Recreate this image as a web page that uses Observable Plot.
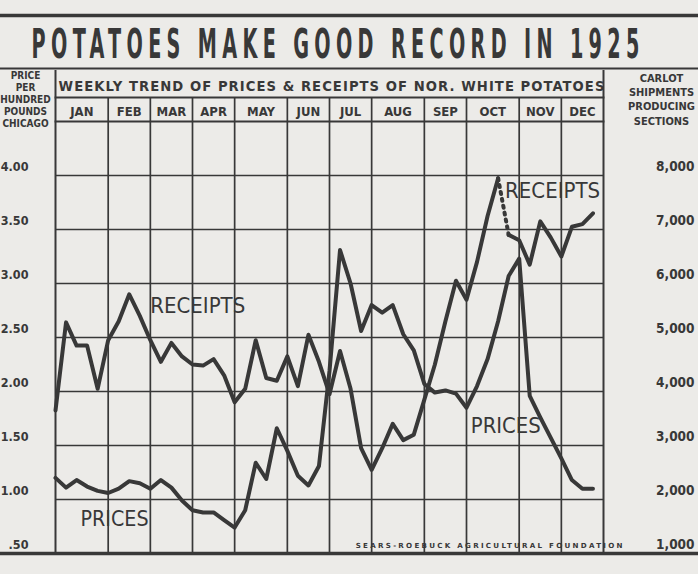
<!DOCTYPE html>
<html>
<head>
<meta charset="utf-8">
<script src="https://cdn.jsdelivr.net/npm/d3@7"></script>
<script src="https://cdn.jsdelivr.net/npm/@observablehq/plot@0.6"></script>
<style>
  html, body { margin: 0; padding: 0; background: #ecebe8; }
  #chart { width: 698px; height: 574px; overflow: hidden; }
</style>
</head>
<body>
<div id="chart"></div>
<script>
// ---------- data ----------
const title = "POTATOES MAKE GOOD RECORD IN 1925";
const header = "WEEKLY TREND OF PRICES & RECEIPTS OF NOR. WHITE POTATOES";
const months = ["JAN","FEB","MAR","APR","MAY","JUN","JUL","AUG","SEP","OCT","NOV","DEC"];
const weeksPerMonth = [5,4,4,4,5,4,4,5,4,5,4,4];

// weekly carlot receipts (right scale)
const receipts = [3650, 5280, 4850, 4850, 4050, 4950, 5300, 5800, 5400, 4950,
                  4550, 4900, 4650, 4500, 4480, 4600, 4300, 3800, 4050, 4950,
                  4250, 4200, 4650, 4100, 5050, 4550, 3950, 4750, 4050, 2950,
                  2550, 2950, 3400, 3100, 3200, 3850, 4500, 5300, 6050, 5700,
                  6400, 7250, 7950, 6900, 6800, 6350, 7150, 6850, 6500, 7050,
                  7100, 7300];
// weekly prices, dollars per 100 lbs (left scale)
const prices = [1.20, 1.11, 1.18, 1.12, 1.08, 1.06, 1.10, 1.17, 1.15, 1.10,
                1.18, 1.11, 0.99, 0.90, 0.88, 0.88, 0.81, 0.74, 0.90, 1.34,
                1.19, 1.66, 1.45, 1.22, 1.13, 1.31, 2.19, 3.31, 3.00, 2.56,
                2.80, 2.73, 2.80, 2.53, 2.38, 2.07, 1.99, 2.01, 1.98, 1.85,
                2.05, 2.30, 2.65, 3.07, 3.23, 1.96, 1.76, 1.57, 1.38, 1.18,
                1.10, 1.10];

const receiptTicks = [1000, 2000, 3000, 4000, 5000, 6000, 7000, 8000];
const receiptTickLabels = ["1,000","2,000","3,000","4,000","5,000","6,000","7,000","8,000"];
const priceTickLabels = [".50","1.00","1.50","2.00","2.50","3.00","3.50","4.00"];
const leftTitle = "PRICE\nPER\nHUNDRED\nPOUNDS\nCHICAGO";
const rightTitle = "CARLOT\nSHIPMENTS\nPRODUCING\nSECTIONS";
const source = "SEARS-ROEBUCK AGRICULTURAL FOUNDATION";

// ---------- derived ----------
const ink = "#383838";
const font = "'DejaVu Sans Condensed', 'Liberation Sans Narrow', 'DejaVu Sans', sans-serif";
const weeks = receipts.map((_, i) => i + 1);
const bounds = [1];
weeksPerMonth.forEach(n => bounds.push(bounds[bounds.length - 1] + n));
const monthCenters = months.map((m, i) => (bounds[i] + bounds[i + 1]) / 2);
const monthByCenter = new Map(monthCenters.map((c, i) => [c, months[i]]));
// prices share the vertical scale: $0.50 <-> 1,000 ; $4.00 <-> 8,000
const priceToScale = p => 1000 + (p - 0.5) * 2000;

const receiptsData = weeks.map((w, i) => ({week: w, value: receipts[i]}));
const pricesData = weeks.map((w, i) => ({week: w, value: priceToScale(prices[i])}));
const dotFrom = 43, dotTo = 44; // dotted stretch of receipts line

const svg = Plot.plot({
  width: 698,
  height: 574,
  marginTop: 121,
  marginBottom: 21,
  marginLeft: 55,
  marginRight: 95,
  x: {domain: [1, 53], axis: null},
  y: {domain: [1000, 9000], axis: null},
  style: {background: "transparent", color: ink, fontFamily: font},
  marks: [
    // rules of the header
    Plot.frame({anchor: "top", insetTop: -106, insetLeft: -60, insetRight: -100, stroke: ink, strokeWidth: 3.5}),
    Plot.frame({anchor: "top", insetTop: -53, insetLeft: -60, insetRight: -100, stroke: ink, strokeWidth: 2.2}),
    Plot.frame({anchor: "top", insetTop: -24, stroke: ink, strokeWidth: 1.8}),
    Plot.frame({anchor: "top", stroke: ink, strokeWidth: 1.8}),
    // grid
    Plot.ruleY(receiptTicks, {stroke: ink, strokeWidth: 1.6}),
    Plot.ruleX(bounds.slice(1, -1), {insetTop: -24, stroke: ink, strokeWidth: 1.7}),
    Plot.ruleX([bounds[0], bounds[bounds.length - 1]], {insetTop: -51, stroke: ink, strokeWidth: 2}),
    Plot.ruleY([1000], {insetLeft: -60, insetRight: -100, stroke: ink, strokeWidth: 3.5}),
    // axes
    Plot.axisY(receiptTicks, {anchor: "left", tickSize: 0, tickPadding: 27, dy: -9,
      tickFormat: d => priceTickLabels[receiptTicks.indexOf(d)],
      fontSize: 12.5, fontWeight: "bold", fill: ink, label: null}),
    Plot.axisY(receiptTicks, {anchor: "right", tickSize: 0, tickPadding: 91, dy: -9, textAnchor: "end",
      tickFormat: d => receiptTickLabels[receiptTicks.indexOf(d)],
      fontSize: 13.5, fontWeight: "bold", fill: ink, label: null}),
    Plot.axisX(monthCenters, {anchor: "top", tickSize: 0, tickPadding: 6,
      tickFormat: d => monthByCenter.get(d),
      fontSize: 13, fontWeight: "bold", fill: ink, label: null}),
    // data lines
    Plot.line(pricesData, {x: "week", y: "value", stroke: ink, strokeWidth: 4}),
    Plot.line(receiptsData.filter(d => d.week <= dotFrom), {x: "week", y: "value", stroke: ink, strokeWidth: 4}),
    Plot.line(receiptsData.filter(d => d.week >= dotFrom && d.week <= dotTo), {x: "week", y: "value", stroke: ink, strokeWidth: 4, strokeDasharray: "2,5"}),
    Plot.line(receiptsData.filter(d => d.week >= dotTo), {x: "week", y: "value", stroke: ink, strokeWidth: 4}),
    // series labels
    Plot.text([receiptsData[7]], {x: "week", y: "value", text: () => "RECEIPTS", dx: 21, dy: 12, textAnchor: "start",
      fontSize: 22, fill: ink}),
    Plot.text([pricesData[2]], {x: "week", y: "value", text: () => "PRICES", dx: 4, dy: 39, textAnchor: "start",
      fontSize: 22, fill: ink}),
    Plot.text([receiptsData[42]], {x: "week", y: "value", text: () => "RECEIPTS ", dx: 7, dy: 13, textAnchor: "start",
      fontSize: 22, fill: ink}),
    Plot.text([pricesData[45]], {x: "week", y: "value", text: () => "PRICES ", dx: 11, dy: 30, textAnchor: "end",
      fontSize: 22, fill: ink}),
    // titles
    Plot.text([title], {frameAnchor: "top", lineAnchor: "middle", dx: 6, dy: -76, fontSize: 40, fontWeight: "bold", fill: ink}),
    Plot.text([header], {frameAnchor: "top", lineAnchor: "middle", dx: 2, dy: -35, fontSize: 14, fontWeight: "bold", fill: ink}),
    Plot.text([leftTitle], {frameAnchor: "top-left", dx: -30, dy: -51, lineAnchor: "top", textAnchor: "middle",
      fontSize: 10, fontWeight: "bold", lineHeight: 1.2, fill: ink}),
    Plot.text([rightTitle], {frameAnchor: "top-right", dx: 58, dy: -50, lineAnchor: "top", textAnchor: "middle",
      fontSize: 11, fontWeight: "bold", lineHeight: 1.3, fill: ink}),
    Plot.text([source], {frameAnchor: "bottom-right", lineAnchor: "middle", dx: 19, dy: -8, textAnchor: "end",
      fontSize: 7, fontWeight: "bold", fill: ink})
  ]
});

document.getElementById("chart").appendChild(svg);

// fit a few texts horizontally to their widths in the reference (letter-spacing, then horizontal scale)
const fits = new Map([
  [title, [608, 10]], [header, [546, 1]], [source, [267, 2]],
  ["RECEIPTS", [95, 0]], ["PRICES", [68, 0]], ["RECEIPTS ", [95, 0]], ["PRICES ", [70, 0]]
]);
svg.querySelectorAll("text").forEach(t => {
  if (t.querySelector("tspan")) return;
  const f = fits.get(t.textContent);
  if (!f) return;
  t.textContent = t.textContent.trim();
  const [target, ls] = f;
  t.style.letterSpacing = ls + "px";
  const w = t.getComputedTextLength() - ls;
  const s = target / w;
  const anchor = getComputedStyle(t).textAnchor || t.getAttribute("text-anchor");
  const x0 = +(t.getAttribute("x") || 0);
  // compensate trailing letter spacing for middle / end anchors
  const shift = anchor === "middle" ? ls / 2 : anchor === "end" ? ls : 0;
  const prev = t.getAttribute("transform") || "";
  t.setAttribute("transform", `${prev} translate(${x0 + shift * s},0) scale(${s},1) translate(${-x0},0)`);
});
</script>
</body>
</html>
